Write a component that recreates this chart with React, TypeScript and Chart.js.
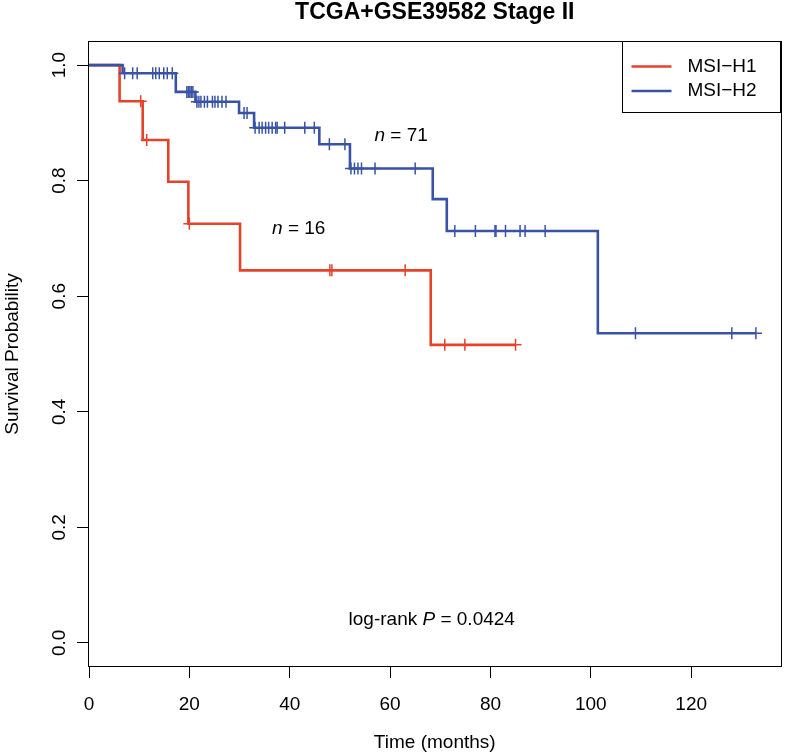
import React, { useEffect, useRef } from "react";
import { Chart, registerables } from "chart.js";

Chart.register(...registerables);

// ---------- data ----------
const TITLE = "TCGA+GSE39582 Stage II";
const X_LABEL = "Time (months)";
const Y_LABEL = "Survival Probability";
const GROUP_NAMES = ["MSI\u2212H1", "MSI\u2212H2"];
const X_TICKS = [0, 20, 40, 60, 80, 100, 120];
const Y_TICKS = [0, 0.2, 0.4, 0.6, 0.8, 1.0];

// MSI-H1 (n = 16)
const H1_EVENT_TIMES = [6.1, 10.7, 15.8, 19.8, 30.1, 68.1];
const H1_SURVIVAL = [0.9375, 0.8705, 0.798, 0.7254, 0.6448, 0.5158];
const H1_CENSOR_TIMES = [10.3, 11.5, 20.0, 48.0, 48.4, 63.0, 70.9, 74.9, 85.0];

// MSI-H2 (n = 71)
const H2_EVENT_TIMES = [6.7, 17.3, 21.2, 29.9, 32.9, 45.9, 52.0, 68.5, 71.3, 101.4];
const H2_SURVIVAL = [0.9859, 0.9536, 0.9366, 0.917, 0.8916, 0.863, 0.821, 0.768, 0.713, 0.536];
const H2_CENSOR_TIMES = [
  7.1, 8.7, 9.6, 12.7, 13.3, 14.0, 14.9, 15.6, 16.6,
  19.5, 19.8, 20.1, 20.4, 20.7,
  21.5, 21.9, 22.3, 23.0, 23.6, 24.6, 25.1, 25.7, 26.5, 27.3,
  30.9, 31.5,
  33.1, 33.9, 34.5, 35.2, 35.8, 36.5, 37.2, 37.5, 39.0, 43.0, 44.9,
  47.9, 51.0,
  52.2, 52.9, 53.6, 54.3, 57.0, 65.0,
  72.9, 77.0, 80.9, 81.1, 83.0, 85.9, 86.9, 90.9,
  108.9, 128.1, 132.9,
];

const N_LABELS = ["71", "16"];
const P_VALUE = "0.0424";

// ---------- styles / positions ----------
const X_MAX = 137.8;
const Y_MIN = -0.04;
const Y_MAX = 1.04;
const RED = "#E4422B";
const BLUE = "#3953A4";
const FONT_FAMILY = "'Liberation Sans', Arial, Helvetica, sans-serif";
const FONT_SIZE = 19;
const ANNOT_H2 = { x: 62.2, y: 0.877 };
const ANNOT_H1 = { x: 41.8, y: 0.716 };
const ANNOT_P = { x: 68.3, y: 0.04 };

function survivalAt(times: number[], surv: number[], t: number): number {
  let s = 1;
  for (let i = 0; i < times.length; i++) {
    if (times[i] <= t) s = surv[i];
  }
  return s;
}

function curvePoints(times: number[], surv: number[], censors: number[]) {
  const pts = [{ x: 0, y: 1 }];
  times.forEach((t, i) => pts.push({ x: t, y: surv[i] }));
  const end = Math.max(times[times.length - 1], censors[censors.length - 1]);
  pts.push({ x: end, y: survivalAt(times, surv, end) });
  return pts;
}

function censorPoints(times: number[], surv: number[], censors: number[]) {
  return censors.map((t) => ({ x: t, y: survivalAt(times, surv, t) }));
}

function drawRich(
  ctx: CanvasRenderingContext2D,
  parts: [string, boolean][],
  cx: number,
  cy: number,
  size: number
) {
  const widths = parts.map(([txt, it]) => {
    ctx.font = `${it ? "italic " : ""}${size}px ${FONT_FAMILY}`;
    return ctx.measureText(txt).width;
  });
  const total = widths.reduce((a, b) => a + b, 0);
  let x = cx - total / 2;
  ctx.textAlign = "left";
  ctx.textBaseline = "middle";
  ctx.fillStyle = "#000";
  parts.forEach(([txt, it], i) => {
    ctx.font = `${it ? "italic " : ""}${size}px ${FONT_FAMILY}`;
    ctx.fillText(txt, x, cy);
    x += widths[i];
  });
}

const decorPlugin = {
  id: "rDecor",
  beforeDraw(chart: any) {
    const ctx = chart.ctx;
    ctx.save();
    ctx.fillStyle = "#fff";
    ctx.fillRect(0, 0, chart.width, chart.height);
    ctx.restore();
  },
  afterDraw(chart: any) {
    const ctx: CanvasRenderingContext2D = chart.ctx;
    const ca = chart.chartArea;
    const xs = chart.scales.x;
    const ys = chart.scales.y;
    ctx.save();
    // box
    ctx.strokeStyle = "#000";
    ctx.lineWidth = 1;
    ctx.strokeRect(Math.round(ca.left) - 0.5, Math.round(ca.top) - 0.5, Math.round(ca.right - ca.left) + 1, Math.round(ca.bottom - ca.top) + 1);

    // title
    ctx.fillStyle = "#000";
    ctx.font = `bold 23px ${FONT_FAMILY}`;
    ctx.textAlign = "center";
    ctx.textBaseline = "middle";
    ctx.fillText(TITLE, (ca.left + ca.right) / 2, 13);

    // legend
    const lw = 159;
    const lh = 71;
    const lx = ca.right - lw;
    const ly = ca.top;
    ctx.fillStyle = "#fff";
    ctx.fillRect(lx, ly, lw, lh);
    ctx.strokeStyle = "#000";
    ctx.lineWidth = 1;
    ctx.strokeRect(Math.round(lx) + 0.5, Math.round(ly) - 0.5, Math.round(lw) - 1, Math.round(lh));
    const colors = [RED, BLUE];
    GROUP_NAMES.forEach((name, i) => {
      const y = ly + 24.5 + i * 24.5;
      ctx.strokeStyle = colors[i];
      ctx.lineWidth = 2.6;
      ctx.beginPath();
      ctx.moveTo(lx + 10, y);
      ctx.lineTo(lx + 50, y);
      ctx.stroke();
      ctx.fillStyle = "#000";
      ctx.font = `${FONT_SIZE}px ${FONT_FAMILY}`;
      ctx.textAlign = "left";
      ctx.textBaseline = "middle";
      ctx.fillText(name, lx + 66, y);
    });

    // annotations
    drawRich(ctx, [["n", true], [" = " + N_LABELS[0], false]], xs.getPixelForValue(ANNOT_H2.x), ys.getPixelForValue(ANNOT_H2.y), FONT_SIZE);
    drawRich(ctx, [["n", true], [" = " + N_LABELS[1], false]], xs.getPixelForValue(ANNOT_H1.x), ys.getPixelForValue(ANNOT_H1.y), FONT_SIZE);
    drawRich(ctx, [["log-rank ", false], ["P", true], [" = " + P_VALUE, false]], xs.getPixelForValue(ANNOT_P.x), ys.getPixelForValue(ANNOT_P.y), FONT_SIZE);
    ctx.restore();
  },
};

export default function App() {
  const ref = useRef<HTMLCanvasElement | null>(null);

  useEffect(() => {
    if (!ref.current) return;
    const font = { family: FONT_FAMILY, size: FONT_SIZE };
    const chart = new Chart(ref.current, {
      type: "scatter",
      data: {
        datasets: [
          {
            label: GROUP_NAMES[1],
            data: curvePoints(H2_EVENT_TIMES, H2_SURVIVAL, H2_CENSOR_TIMES),
            showLine: true,
            stepped: "before",
            borderColor: BLUE,
            borderWidth: 2.6,
            pointRadius: 0,
            order: 0,
          },
          {
            label: GROUP_NAMES[1] + " censored",
            data: censorPoints(H2_EVENT_TIMES, H2_SURVIVAL, H2_CENSOR_TIMES),
            showLine: false,
            pointStyle: "cross",
            pointRadius: 6,
            borderColor: BLUE,
            borderWidth: 1.5,
            order: 0,
          },
          {
            label: GROUP_NAMES[0],
            data: curvePoints(H1_EVENT_TIMES, H1_SURVIVAL, H1_CENSOR_TIMES),
            showLine: true,
            stepped: "before",
            borderColor: RED,
            borderWidth: 2.6,
            pointRadius: 0,
            order: 1,
          },
          {
            label: GROUP_NAMES[0] + " censored",
            data: censorPoints(H1_EVENT_TIMES, H1_SURVIVAL, H1_CENSOR_TIMES),
            showLine: false,
            pointStyle: "cross",
            pointRadius: 6,
            borderColor: RED,
            borderWidth: 1.5,
            order: 1,
          },
        ] as any,
      },
      options: {
        responsive: false,
        animation: false,
        devicePixelRatio: 1,
        events: [],
        layout: { padding: { top: 42, right: 3, left: 0, bottom: 0 } },
        plugins: {
          legend: { display: false },
          tooltip: { enabled: false },
          title: { display: false },
        },
        scales: {
          x: {
            type: "linear",
            min: 0,
            max: X_MAX,
            afterFit: (s: any) => {
              s.height = 88;
            },
            afterBuildTicks: (s: any) => {
              s.ticks = X_TICKS.map((v) => ({ value: v }));
            },
            ticks: {
              font,
              color: "#000",
              padding: 15,
              maxRotation: 0,
              autoSkip: false,
              callback: (v: any) => String(v),
            },
            grid: { drawOnChartArea: false, drawTicks: true, tickLength: 12, color: "#000", lineWidth: 1 },
            border: { display: false },
            title: { display: true, text: X_LABEL, font, color: "#000", padding: { top: 0, bottom: 0 } },
          },
          y: {
            type: "linear",
            min: Y_MIN,
            max: Y_MAX,
            afterFit: (s: any) => {
              s.width = 89;
            },
            afterBuildTicks: (s: any) => {
              s.ticks = Y_TICKS.map((v) => ({ value: v }));
            },
            ticks: {
              font,
              color: "#000",
              padding: 4,
              minRotation: 90,
              maxRotation: 90,
              crossAlign: "center",
              autoSkip: false,
              callback: (v: any) => Number(v).toFixed(1),
            },
            grid: { drawOnChartArea: false, drawTicks: true, tickLength: 12, color: "#000", lineWidth: 1 },
            border: { display: false },
            title: { display: true, text: Y_LABEL, font, color: "#000", padding: { top: 1, bottom: 0 } },
          },
        },
      } as any,
      plugins: [decorPlugin],
    });
    return () => chart.destroy();
  }, []);

  return (
    <div style={{ position: "absolute", left: 0, top: 0, width: 788, height: 754, background: "#fff" }}>
      <canvas ref={ref} width={788} height={754} style={{ display: "block" }} />
    </div>
  );
}
